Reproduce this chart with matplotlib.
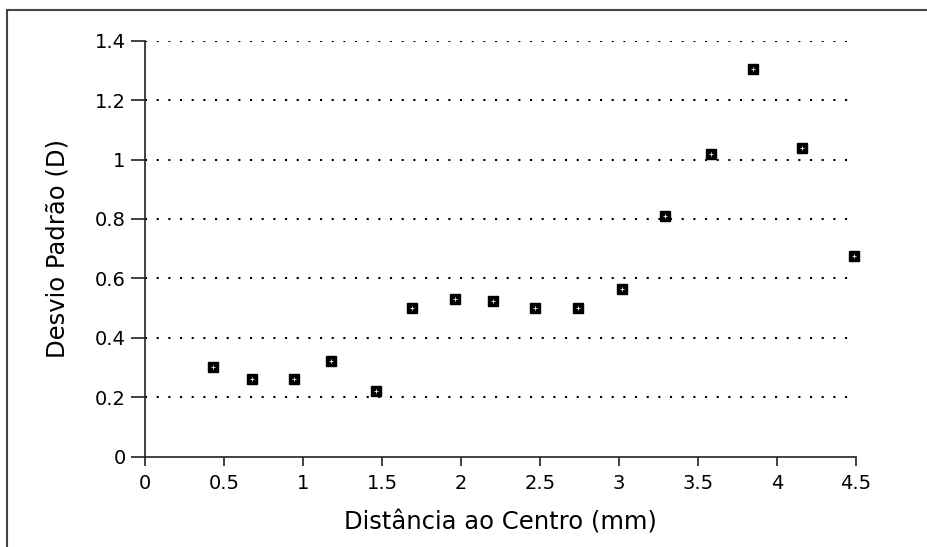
import matplotlib
matplotlib.use("Agg")
import matplotlib.pyplot as plt
from matplotlib.lines import Line2D

# data
distancia = [0.43, 0.68, 0.94, 1.18, 1.46, 1.69, 1.96, 2.20, 2.47, 2.74,
             3.02, 3.29, 3.58, 3.85, 4.16, 4.49]
desvio = [0.30, 0.26, 0.26, 0.32, 0.22, 0.50, 0.53, 0.525, 0.50, 0.50,
          0.565, 0.81, 1.02, 1.305, 1.04, 0.675]
xticks = [0, 0.5, 1, 1.5, 2, 2.5, 3, 3.5, 4, 4.5]
yticks = [0, 0.2, 0.4, 0.6, 0.8, 1.0, 1.2, 1.4]
xtick_labels = ['0', '0.5', '1', '1.5', '2', '2.5', '3', '3.5', '4', '4.5']
ytick_labels = ['0', '0.2', '0.4', '0.6', '0.8', '1', '1.2', '1.4']

plt.rcParams['font.family'] = ['DejaVu Sans']

fig = plt.figure(figsize=(9.27, 5.47), dpi=100)
ax = fig.add_axes([0.1564, 0.1654, 0.9234 - 0.1564, 0.9256 - 0.1654])

ax.set_xlim(0, 4.5)
ax.set_ylim(0, 1.4)

# dotted horizontal grid
ax.hlines(yticks[1:], 0, 4.45, colors='black', linewidth=1.5,
          linestyles=[(0, (1, 4.6))], zorder=1)

ax.plot(distancia, desvio, linestyle='none', marker='s', markersize=7.5,
        markerfacecolor='black', markeredgecolor='black', clip_on=False, zorder=3)
ax.plot(distancia, desvio, linestyle='none', marker='+', markersize=3,
        markeredgecolor='white', markeredgewidth=0.6, clip_on=False, zorder=4)

ax.set_xticks(xticks)
ax.set_xticklabels(xtick_labels)
ax.set_yticks(yticks)
ax.set_yticklabels(ytick_labels)

for s in ['top', 'right']:
    ax.spines[s].set_visible(False)
for s in ['left', 'bottom']:
    ax.spines[s].set_linewidth(1.2)
    ax.spines[s].set_color('#222222')

ax.tick_params(axis='y', direction='out', length=10, width=1.2, pad=4,
               labelsize=14, color='#222222')
ax.tick_params(axis='x', direction='out', length=6.5, width=1.2, pad=6,
               labelsize=14, color='#222222')

ax.set_xlabel('Distância ao Centro (mm)', fontsize=17.5, labelpad=13)
ax.set_ylabel('Desvio Padrão (D)', fontsize=17.5, labelpad=18)

# scanned page frame
fig.add_artist(Line2D([7 / 927, 1.0], [1 - 10 / 547, 1 - 10 / 547],
                      transform=fig.transFigure, color='#444444', linewidth=1.5))
fig.add_artist(Line2D([7 / 927, 7 / 927], [0.0, 1 - 10 / 547],
                      transform=fig.transFigure, color='#444444', linewidth=1.5))

fig.savefig('out.png', dpi=100)
